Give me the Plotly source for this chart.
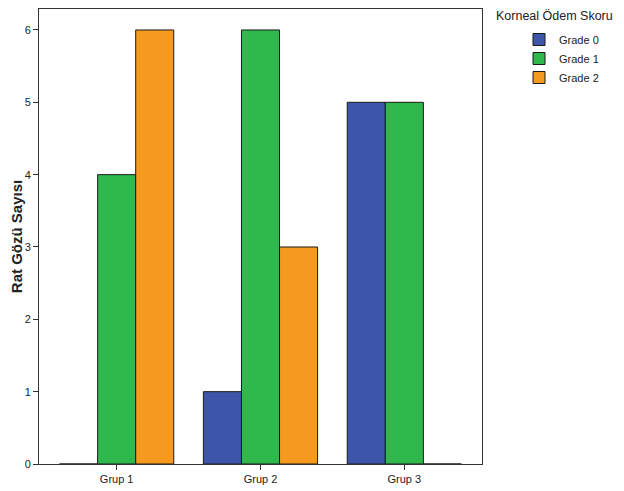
import plotly.graph_objects as go

categories = ["Grup 1", "Grup 2", "Grup 3"]
series_names = ["Grade 0", "Grade 1", "Grade 2"]
grade0 = [0, 1, 5]
grade1 = [4, 6, 5]
grade2 = [6, 3, 0]
y_ticks = [0, 1, 2, 3, 4, 5, 6]

colors = ["#3E56A9", "#2FB84C", "#F6991F"]
values = [grade0, grade1, grade2]

fig = go.Figure()
for name, vals, col in zip(series_names, values, colors):
    fig.add_trace(go.Bar(
        x=categories, y=vals, name=name,
        marker=dict(color=col, line=dict(color="#1a1a1a", width=1)),
    ))

font_family = "Liberation Sans, Arial, sans-serif"
W, H = 608, 483
L, R, T, B = 31, 134, 1, 27
pw, ph = W - L - R, H - T - B
fig.update_layout(
    width=W, height=H,
    margin=dict(l=L, r=R, t=T, b=B, autoexpand=False),
    plot_bgcolor="white", paper_bgcolor="white",
    barmode="group", bargap=0.206, bargroupgap=0,
    font=dict(family=font_family, size=11, color="#222"),
    showlegend=True,
    legend=dict(
        xref="container", yref="container",
        x=511 / W, y=1 - 17 / H, xanchor="left", yanchor="top",
        font=dict(size=11, color="#222"),
        bgcolor="rgba(0,0,0,0)", tracegroupgap=0,
    ),
    annotations=[dict(
        text="Korneal Ödem Skoru", xref="paper", yref="paper",
        x=(486 - L) / pw, y=(H - B - 8) / ph, xanchor="left", yanchor="middle",
        showarrow=False, font=dict(size=12.5, color="#222"),
    )],
)
fig.update_xaxes(
    range=[-0.54, 2.54], showline=True, linecolor="#333", linewidth=1, mirror=True,
    ticks="outside", ticklen=5, tickcolor="#333", showgrid=False,
    tickfont=dict(size=11),
)
fig.update_yaxes(
    range=[0, 6.29], tickvals=y_ticks, showline=True, linecolor="#333", linewidth=1,
    mirror=True, ticks="outside", ticklen=5, tickcolor="#333", showgrid=False,
    zeroline=False, tickfont=dict(size=11), automargin=False,
    title=dict(text="<b>Rat Gözü Sayısı</b>", font=dict(size=15), standoff=5),
)
fig.write_html("out.html")
